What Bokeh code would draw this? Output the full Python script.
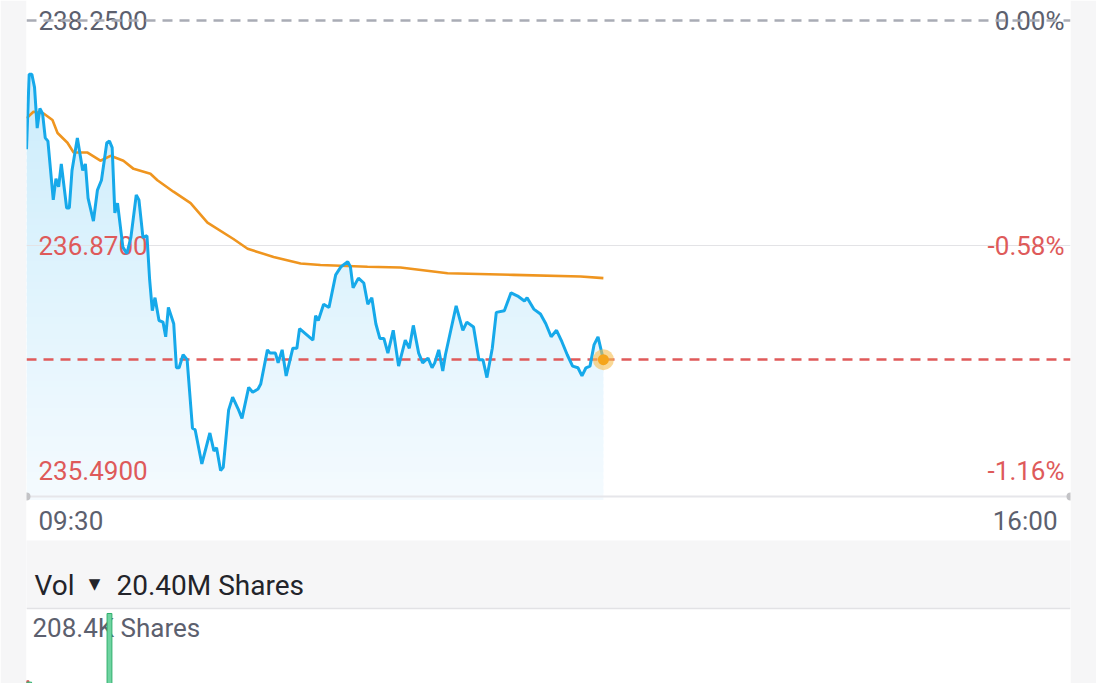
import numpy as np
from bokeh.plotting import figure
from bokeh.models import Range1d
from bokeh.core.properties import value
from bokeh.embed import file_html
from bokeh.resources import INLINE

# ---------------- data ----------------
# minutes since 09:30 and last-trade prices
minutes = [0, 1, 2, 3, 4, 5, 6, 7, 8, 10, 11, 12, 13, 15, 16, 17, 19, 21, 22, 23,
           25, 26.5, 28, 30, 31, 32, 33, 34, 36, 37.5, 39, 41, 42, 43.5, 45, 46, 47, 48,
           49.5, 51, 52, 53, 55, 56, 57, 58.5, 60, 62, 63, 65.5, 68.5, 70, 71, 72.5,
           73.5, 75.5, 77, 79, 80.5, 83, 84.5, 86.5, 87.5, 90, 91, 93, 94, 95.5, 97,
           99.5, 101, 102, 107, 108, 109, 111, 113, 115.5, 117.5, 120, 121, 122, 124,
           126, 127.5, 129, 130.5, 132, 133.5, 135, 137, 139, 141.5, 143, 144.5, 146.5,
           148, 150, 151.5, 152.5, 154, 155.5, 156.5, 158.5, 160.5, 163, 164.5, 167,
           169, 170.5, 172, 174, 175.5, 178.5, 181, 183.5, 186, 187, 189.5, 192, 194,
           196, 198, 200, 202, 204, 206, 207.5, 209, 210.5, 212, 213.5, 215.5]
prices = [237.46, 237.92, 237.92, 237.84, 237.59, 237.71, 237.68, 237.53, 237.51, 237.15,
          237.28, 237.23, 237.37, 237.10, 237.10, 237.33, 237.53, 237.33, 237.37, 237.16,
          237.02, 237.21, 237.27, 237.50, 237.51, 237.47, 237.07, 237.13, 236.86, 236.82,
          236.92, 237.18, 237.15, 236.92, 236.93, 236.66, 236.47, 236.55, 236.41, 236.40,
          236.31, 236.49, 236.39, 236.12, 236.12, 236.20, 236.17, 235.75, 235.74, 235.53,
          235.72, 235.61, 235.63, 235.49, 235.51, 235.86, 235.94, 235.87, 235.81, 236.00,
          235.97, 235.99, 236.02, 236.23, 236.21, 236.21, 236.15, 236.23, 236.07, 236.24,
          236.24, 236.36, 236.29, 236.44, 236.41, 236.51, 236.49, 236.69, 236.74, 236.77,
          236.74, 236.61, 236.67, 236.64, 236.51, 236.55, 236.39, 236.30, 236.30, 236.21,
          236.35, 236.13, 236.29, 236.24, 236.38, 236.21, 236.15, 236.18, 236.12, 236.15,
          236.23, 236.10, 236.20, 236.35, 236.50, 236.35, 236.40, 236.37, 236.17, 236.17,
          236.06, 236.24, 236.46, 236.47, 236.58, 236.56, 236.53, 236.55, 236.48, 236.45,
          236.39, 236.31, 236.35, 236.28, 236.20, 236.13, 236.12, 236.07, 236.12, 236.13,
          236.26, 236.31, 236.17]

# average price line
avg_minutes = [0, 2.6, 6.4, 9.7, 11.6, 15.3, 17.6, 22.8, 27.6, 31.4, 36.2, 40.0, 46.3,
               48.9, 54.9, 61.3, 67.6, 77.3, 82.6, 92.3, 102.4, 109.8, 127.4, 139.7,
               157.3, 181.9, 207.0, 215.5]
avg_prices = [237.65, 237.69, 237.68, 237.64, 237.56, 237.50, 237.44, 237.44, 237.39,
              237.42, 237.39, 237.34, 237.31, 237.27, 237.20, 237.13, 237.01, 236.91,
              236.85, 236.80, 236.76, 236.75, 236.74, 236.735, 236.70, 236.69, 236.68,
              236.67]

prev_close = 238.25
mid_level = 236.87
day_low = 235.49
price_levels = [prev_close, mid_level, day_low]
price_labels = ["238.2500", "236.8700", "235.4900"]
pct_labels = ["0.00%", "-0.58%", "-1.16%"]
time_labels = ["09:30", "16:00"]
session_minutes = [0, 390]

vol_minutes = [0, 1, 31]
vol_values = [103000, 101000, 202500]
vol_up = [False, True, True]
vol_axis_max = 208400
vol_axis_label = "208.4K Shares"
vol_title = "Vol"
vol_total_label = "20.40M Shares"

# ---------------- layout constants (page pixels) ----------------
W, H = 1096, 683
PAGE_TOP, PAGE_BOTTOM = 0, 683
Y_PREV, Y_LOW = 20, 470          # where prev close / day low sit
Y_BASE = 496                     # baseline of the price panel
Y_HEAD_TOP, Y_HEAD_BOT = 540, 608
Y_VOL_TOP, Y_VOL_ZERO = 609, 750

pscale = (Y_LOW - Y_PREV) / (prev_close - day_low)


def pv(y):
    return prev_close - (y - Y_PREV) / pscale


vscale = (Y_VOL_ZERO - Y_VOL_TOP) / vol_axis_max


def vv(y):
    return (Y_VOL_ZERO - y) / vscale


BG = "#f6f6f7"
GREY_TXT = "#5c606e"
RED_TXT = "#de5a5a"
FONT = value("Roboto")

p = figure(width=W, height=H, output_backend="svg", toolbar_location=None,
           x_range=Range1d(session_minutes[0], session_minutes[1]),
           y_range=Range1d(pv(PAGE_BOTTOM), pv(PAGE_TOP)),
           x_axis_location=None, y_axis_location=None,
           min_border_left=26, min_border_right=26, min_border_top=0, min_border_bottom=0)
p.extra_y_ranges = {"vol": Range1d(vv(PAGE_BOTTOM), vv(PAGE_TOP))}
p.grid.visible = False
p.outline_line_color = None
p.border_fill_color = BG
p.background_fill_color = "white"

# header band of the volume panel
p.quad(left=session_minutes[0] - 5, right=session_minutes[1] + 5,
       bottom=pv(Y_HEAD_BOT), top=pv(Y_HEAD_TOP), fill_color=BG, line_color=None)

# gradient fill under the price line
base_val = pv(Y_BASE)
mx = np.array(minutes, dtype=float)
py = np.array(prices, dtype=float)
nb = 60
edges = np.linspace(base_val, py.max(), nb + 1)
c0 = np.array([0xf5, 0xfb, 0xff])
c1 = np.array([0xcc, 0xed, 0xfc])
cols = []
for k in range(nb):
    t = (k + 0.5) / nb
    c = (c0 + (c1 - c0) * t).astype(int)
    cols.append("#%02x%02x%02x" % tuple(c))
eps = (edges[1] - edges[0]) * 0.5
p.quad(left=mx[0], right=mx[-1], bottom=edges[:-1] - eps, top=edges[1:],
       fill_color=cols, line_color=None)
mask_x = np.append(mx, mx[-1] + 2)
mask_y = np.append(py, py[-1])
p.varea(x=mask_x, y1=mask_y, y2=pv(PAGE_TOP) + 1, fill_color="white")

# grid lines
p.hspan(y=[mid_level], line_color="#e3e3e6", line_width=1)
p.hspan(y=[base_val], line_color="#e6e6ea", line_width=2)

# labels
p.text(x=[session_minutes[0]] * 3, y=price_levels, text=price_labels, x_offset=12,
       text_baseline="middle", text_align="left", text_font=FONT, text_font_size="26px",
       text_color=[GREY_TXT, RED_TXT, RED_TXT])
p.text(x=[session_minutes[1]] * 3, y=price_levels, text=pct_labels, x_offset=-6,
       text_baseline="middle", text_align="right", text_font=FONT, text_font_size="26px",
       text_color=[GREY_TXT, RED_TXT, RED_TXT])
p.text(x=session_minutes, y=[pv(520)] * 2, text=time_labels, x_offset=[12, -13],
       text_baseline="middle", text_align=["left", "right"], text_font=FONT,
       text_font_size="26px", text_color=GREY_TXT)

# header text
p.text(x=[0], y=[pv(585)], text=[vol_title], x_offset=8, text_baseline="middle",
       text_font=FONT, text_font_size="28px", text_color="#23242a")
p.text(x=[0], y=[pv(583)], text=["▼"], x_offset=68, text_baseline="middle",
       text_align="center", text_font=value("DejaVu Sans"), text_font_size="15px",
       text_color="#23242a")
p.text(x=[0], y=[pv(585)], text=[vol_total_label], x_offset=90, text_baseline="middle",
       text_font=FONT, text_font_size="28px", text_color="#23242a")

# reference lines
p.hspan(y=[prev_close], line_color="#a9acb5", line_width=2.5, line_dash="10 7")
p.hspan(y=[prices[-1]], line_color="#e05a5a", line_width=2.5, line_dash="10 7")

# avg + price lines
p.line(avg_minutes, avg_prices, line_color="#ef951f", line_width=2.6)
p.line(minutes, prices, line_color="#16a9ea", line_width=3)

# end dot
p.scatter([minutes[-1]], [prices[-1]], size=21, fill_color="#f7be4e", fill_alpha=0.6,
          line_color=None)
p.scatter([minutes[-1]], [prices[-1]], size=11, fill_color="#f5a51b", line_color=None)

# baseline end dots
p.scatter(session_minutes, [base_val] * 2, size=8, fill_color="#c3c3c6", line_color=None)

# volume panel
p.hspan(y=[vv(Y_VOL_TOP - 1)], y_range_name="vol", line_color="#e2e2e5", line_width=1.5)
p.text(x=[0], y=[vv(627)], y_range_name="vol", text=[vol_axis_label], x_offset=6,
       text_baseline="middle", text_font=FONT, text_font_size="26px", text_color=GREY_TXT)
vcols = ["#6fd4a1" if u else "#e56a6a" for u in vol_up]
vline = ["#2fae6b" if u else "#d44c4c" for u in vol_up]
p.vbar(x=vol_minutes, top=vol_values, bottom=0, width=1.8, y_range_name="vol",
       fill_color=vcols, line_color=vline, line_width=1)

open("out.html", "w").write(file_html(p, INLINE))
